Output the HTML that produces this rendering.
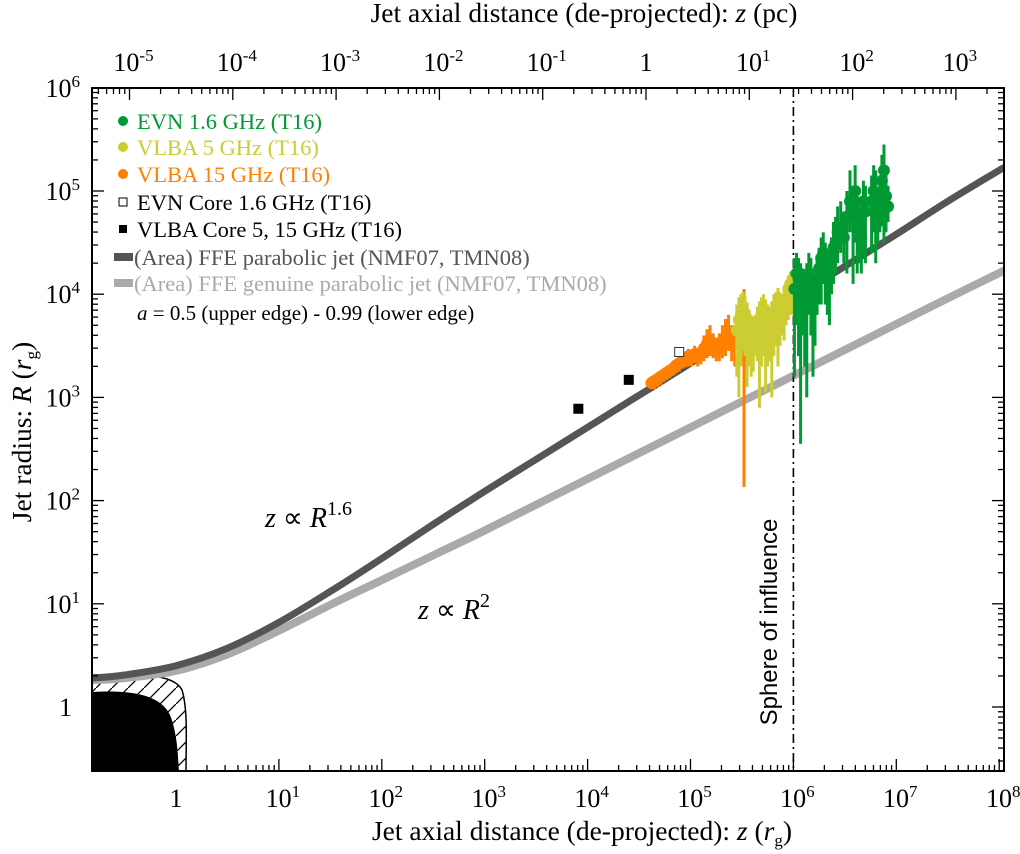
<!DOCTYPE html>
<html><head><meta charset="utf-8">
<style>
body{margin:0;background:#fff;}
svg{display:block;font-family:"Liberation Serif",serif;}
</style></head>
<body>
<svg id="chart" width="1020" height="854" viewBox="0 0 1020 854" xmlns="http://www.w3.org/2000/svg">
<defs>
<clipPath id="plotclip"><rect x="92" y="88" width="912" height="683"/></clipPath>
<pattern id="hatch" patternUnits="userSpaceOnUse" width="16" height="16">
<line x1="0" y1="16" x2="16" y2="0" stroke="#000" stroke-width="1.3"/>
</pattern>
</defs>
<g id="plot" clip-path="url(#plotclip)"></g>
<g id="axes"></g>
<g id="legend"></g>
<text x="582" y="840" font-size="27.5" text-anchor="middle">Jet axial distance (de-projected): <tspan font-style="italic">z</tspan> (<tspan font-style="italic">r</tspan><tspan font-size="17" dy="6">g</tspan><tspan dy="-6">)</tspan></text>
<text x="584" y="22" font-size="27.5" text-anchor="middle">Jet axial distance (de-projected): <tspan font-style="italic">z</tspan> (pc)</text>
<text transform="translate(31,432) rotate(-90)" font-size="27.5" text-anchor="middle">Jet radius: <tspan font-style="italic">R</tspan> (<tspan font-style="italic">r</tspan><tspan font-size="17" dy="6">g</tspan><tspan dy="-6">)</tspan></text>
<text x="265" y="527" font-size="28"><tspan font-style="italic">z</tspan>  ∝  <tspan font-style="italic">R</tspan><tspan font-size="20" dy="-12">1.6</tspan></text>
<text x="418" y="619" font-size="28"><tspan font-style="italic">z</tspan>  ∝  <tspan font-style="italic">R</tspan><tspan font-size="20" dy="-12">2</tspan></text>
<text transform="translate(777,622) rotate(-90)" font-size="24" text-anchor="middle" font-family="Liberation Sans, sans-serif">Sphere of influence</text>
</svg>
<script>
// ---- data (log10 values) ----
var parabolicLogZ = [-0.82,-0.5,0,0.5,1,1.5,2,2.5,3,3.5,4,4.5,5,5.5,6,6.5,7,7.5,8.05];
var parabolicLogR = [0.28,0.31,0.4,0.57,0.82,1.12,1.44,1.77,2.09,2.4,2.71,3.02,3.33,3.64,3.96,4.27,4.58,4.9,5.23];
var genuineLogZ = [-0.82,-0.5,0,0.5,1,1.5,2,2.5,3,4,5,6,7,7.5,8.05];
var genuineLogR = [0.26,0.28,0.35,0.51,0.74,0.99,1.23,1.47,1.71,2.21,2.71,3.21,3.71,3.96,4.23];
var orangeLogZ = [4.62,4.65,4.68,4.71,4.74,4.77,4.80,4.83,4.86,4.89,4.92,4.95,4.98,5.01,5.04,5.07,5.10,5.13,5.16,5.19,5.22,5.25,5.28,5.31,5.34,5.37,5.40,5.43,5.52];
var orangeLogR = [3.14,3.16,3.18,3.2,3.22,3.24,3.26,3.28,3.31,3.33,3.35,3.37,3.4,3.39,3.42,3.4,3.43,3.47,3.52,3.55,3.5,3.46,3.48,3.53,3.58,3.62,3.55,3.5,3.38];
var orangeLo   = [3.08,3.08,3.1,3.12,3.15,3.17,3.19,3.21,3.24,3.25,3.28,3.29,3.3,3.3,3.33,3.3,3.32,3.35,3.38,3.4,3.38,3.35,3.35,3.38,3.4,3.45,3.35,3.3,2.13];
var orangeHi   = [3.2,3.22,3.24,3.26,3.28,3.3,3.32,3.34,3.37,3.4,3.42,3.44,3.47,3.46,3.5,3.48,3.52,3.6,3.66,3.7,3.62,3.58,3.62,3.7,3.76,3.8,3.7,3.65,4.05];
var yellowLogZ = [5.45,5.47,5.49,5.51,5.53,5.55,5.57,5.59,5.61,5.63,5.65,5.67,5.69,5.71,5.73,5.75,5.77,5.79,5.81,5.83,5.85,5.87,5.89,5.91,5.93,5.95,5.97,5.99];
var yellowLogR = [3.65,3.75,3.8,3.85,3.8,3.75,3.65,3.6,3.55,3.6,3.7,3.75,3.8,3.85,3.8,3.7,3.68,3.75,3.82,3.85,3.9,3.85,3.8,3.9,3.95,4.05,4.1,4.05];
var yellowLo   = [3.2,3.0,3.3,3.45,3.4,3.1,3.3,3.2,3.25,3.4,3.35,2.9,3.3,3.4,3.05,3.3,3.35,3.0,3.4,3.5,3.3,3.5,3.6,3.55,3.7,3.75,3.8,3.8];
var yellowHi   = [3.9,3.97,4.0,4.02,3.98,3.92,3.85,3.8,3.78,3.8,3.88,3.93,3.97,4.0,3.95,3.9,3.88,3.93,4.0,4.02,4.06,4.02,4.0,4.08,4.12,4.18,4.22,4.2];
var greenLogZ = [6.01,6.03,6.05,6.07,6.09,6.11,6.13,6.15,6.17,6.19,6.21,6.23,6.25,6.27,6.29,6.31,6.33,6.35,6.37,6.39,6.41,6.43,6.46,6.49,6.52,6.55,6.58,6.60,6.62,6.64,6.66,6.68,6.70,6.76,6.78,6.80,6.82,6.84,6.86,6.88,6.90,6.92];
var greenLogR = [4.05,4.2,4.15,4.1,4.05,4.0,4.1,4.2,4.15,4.05,4.0,4.15,4.25,4.35,4.4,4.3,4.2,4.25,4.35,4.45,4.5,4.6,4.65,4.55,4.75,4.9,4.85,5.0,4.8,4.6,4.55,4.9,4.8,4.9,5.0,4.95,4.7,4.85,5.1,5.2,4.95,4.85];
var greenLo   = [3.2,3.7,3.4,2.55,3.6,3.3,3.0,3.8,3.6,3.2,3.5,3.8,3.9,3.9,4.1,3.9,3.8,3.7,4.0,4.1,4.2,4.3,4.4,4.3,4.2,4.6,4.1,4.5,4.2,4.3,4.2,4.4,4.3,4.4,4.6,4.3,4.5,4.6,4.7,4.5,4.6,4.7];
var greenHi   = [4.35,4.4,4.35,4.3,4.25,4.2,4.3,4.4,4.35,4.25,4.2,4.35,4.45,4.55,4.6,4.5,4.4,4.45,4.55,4.7,4.75,4.85,4.9,4.8,5.0,5.2,5.05,5.25,5.0,4.8,4.8,5.1,5.05,5.15,5.25,5.2,5.0,5.1,5.35,5.45,5.2,5.05];
var coreVlbaLogZ = [3.91,4.40];
var coreVlbaLogR = [2.89,3.17];
var coreEvnLogZ = [4.89];
var coreEvnLogR = [3.44];
var xTickExps = [0,1,2,3,4,5,6,7,8];
var yTickExps = [0,1,2,3,4,5,6];
var pcTickExps = [-5,-4,-3,-2,-1,0,1,2,3];

// ---- axis functions ----
function X(lz){return 176+102.9*lz;}
function Y(lr){return 707-103.2*lr;}
function XP(lp){return 646+103.3*lp;}
var NS="http://www.w3.org/2000/svg";
function mk(tag,attrs,parent){var e=document.createElementNS(NS,tag);for(var k in attrs)e.setAttribute(k,attrs[k]);parent.appendChild(e);return e;}
var plot=document.getElementById('plot'),axes=document.getElementById('axes'),legend=document.getElementById('legend');

var hatchReg=mk('path',{d:"M92,675 C150,673 175,676 182,690 C188,710 186,740 186,771 L92,771 Z",fill:"url(#hatch)",stroke:"#000","stroke-width":"1.5"},plot);


var blackReg=mk('path',{d:"M92,692 C130,690 160,694 170,715 C178,735 178,760 179,771 L92,771 Z",fill:"#000"},plot);



function smoothPath(zs,rs){
  var p=[];for(var i=0;i<zs.length;i++)p.push([X(zs[i]),Y(rs[i])]);
  var d="M"+p[0][0].toFixed(1)+","+p[0][1].toFixed(1);
  for(var i=0;i<p.length-1;i++){
    var p0=p[i-1]||p[i],p1=p[i],p2=p[i+1],p3=p[i+2]||p2;
    var c1x=p1[0]+(p2[0]-p0[0])/6,c1y=p1[1]+(p2[1]-p0[1])/6;
    var c2x=p2[0]-(p3[0]-p1[0])/6,c2y=p2[1]-(p3[1]-p1[1])/6;
    d+="C"+c1x.toFixed(1)+","+c1y.toFixed(1)+" "+c2x.toFixed(1)+","+c2y.toFixed(1)+" "+p2[0].toFixed(1)+","+p2[1].toFixed(1);
  }
  return d;
}
var gl=mk('path',{d:smoothPath(genuineLogZ,genuineLogR),fill:"none",stroke:"#aaaaaa","stroke-width":"8"},plot);


var pl=mk('path',{d:smoothPath(parabolicLogZ,parabolicLogR),fill:"none",stroke:"#555555","stroke-width":"7"},plot);



var soi=mk('line',{x1:X(6),y1:88,x2:X(6),y2:771,stroke:"#000","stroke-width":"1.6","stroke-dasharray":"9,4,2,4"},plot);



function series(zs,rs,lo,hi,color,name){
  var g=mk('g',{},plot);
  
  
  for(var i=0;i<zs.length;i++){
    var bar=mk('line',{x1:X(zs[i]),x2:X(zs[i]),y1:Y(lo[i]),y2:Y(hi[i]),stroke:color,"stroke-width":"3"},g);
    
    
    var c=mk('circle',{cx:X(zs[i]),cy:Y(rs[i]),r:6,fill:color},g);
    
    
  }
}
series(orangeLogZ,orangeLogR,orangeLo,orangeHi,"#ff8000","vlba-15ghz-series");
series(yellowLogZ,yellowLogR,yellowLo,yellowHi,"#cccc33","vlba-5ghz-series");
series(greenLogZ,greenLogR,greenLo,greenHi,"#009933","evn-1-6ghz-series");
for(var i=0;i<coreVlbaLogZ.length;i++){
  var s=mk('rect',{x:X(coreVlbaLogZ[i])-5,y:Y(coreVlbaLogR[i])-5,width:10,height:10,fill:"#000"},plot);
  
  
}
for(var i=0;i<coreEvnLogZ.length;i++){
  var s2=mk('rect',{x:X(coreEvnLogZ[i])-4.5,y:Y(coreEvnLogR[i])-4.5,width:9,height:9,fill:"#fff",stroke:"#333","stroke-width":"1"},plot);
  
  
}

var fr=mk('rect',{x:92,y:88,width:912,height:683,fill:"none",stroke:"#000","stroke-width":"2"},axes);


var L=92,R=1004,T=88,B=771;
function tick(x1,y1,x2,y2){var t=mk('line',{x1:x1,y1:y1,x2:x2,y2:y2,stroke:"#000","stroke-width":"1.3"},axes);}
function pow(e){return e==0?"1":"10<tspan dy='-10' font-size='17'>"+e+"</tspan>";}
for(var d=-1;d<=8;d++){for(var m=1;m<10;m++){var lz=d+Math.log10(m);var x=X(lz);if(x<L+1||x>R-1)continue;tick(x,B,x,B-(m==1?12:6));}}
for(var i=0;i<xTickExps.length;i++){var t=mk('text',{x:X(xTickExps[i])+(xTickExps[i]?4:0),y:807,"font-size":"26","text-anchor":"middle"},axes);t.innerHTML=pow(xTickExps[i]);}
for(var d=-6;d<=3;d++){for(var m=1;m<10;m++){var lp=d+Math.log10(m);var x=XP(lp);if(x<L+1||x>R-1)continue;tick(x,T,x,T+(m==1?12:6));}}
for(var i=0;i<pcTickExps.length;i++){var e=pcTickExps[i];var t=mk('text',{x:XP(e)+(e?4:0),y:71,"font-size":"26","text-anchor":"middle"},axes);t.innerHTML=pow(e);}
for(var d=-1;d<=6;d++){for(var m=1;m<10;m++){var lr=d+Math.log10(m);var y=Y(lr);if(y<T+1||y>B-1)continue;var len=m==1?12:6;tick(L,y,L+len,y);tick(R,y,R-len,y);}}
for(var i=0;i<yTickExps.length;i++){var e=yTickExps[i];var t=mk('text',{x:e==0?72:80,y:Y(e)+9,"font-size":"26","text-anchor":"end"},axes);t.innerHTML=pow(e);}

var leg=[["circle","#009933","#009933","EVN 1.6 GHz (T16)",121],["circle","#cccc33","#cccc33","VLBA 5 GHz (T16)",147],["circle","#ff8000","#ff8000","VLBA 15 GHz (T16)",174],["open","#000","#000","EVN Core 1.6 GHz (T16)",202],["sq","#000","#000","VLBA Core 5, 15 GHz (T16)",229],["bar","#555555","#555555","(Area) FFE parabolic jet (NMF07, TMN08)",257],["bar","#aaaaaa","#aaaaaa","(Area) FFE genuine parabolic jet (NMF07, TMN08)",283]];
for(var i=0;i<leg.length;i++){var it=leg[i],y=it[4];var g=mk('g',{},legend);


if(it[0]=="circle")mk('circle',{cx:123,cy:y,r:5,fill:it[1]},g);
else if(it[0]=="open")mk('rect',{x:119,y:y-4,width:8,height:8,fill:"#fff",stroke:"#000"},g);
else if(it[0]=="sq")mk('rect',{x:119,y:y-4,width:8,height:8,fill:"#000"},g);
else mk('rect',{x:114,y:y-4,width:19,height:8,fill:it[1]},g);
var t=mk('text',{x:it[0]=="bar"?134:137,y:y+8,"font-size":"22.5",fill:it[2]},g);t.textContent=it[3];}
var at=mk('text',{x:137,y:320,"font-size":"21"},legend);
at.innerHTML="<tspan font-style='italic'>a</tspan> = 0.5 (upper edge) - 0.99 (lower edge)";


</script>
</body></html>
